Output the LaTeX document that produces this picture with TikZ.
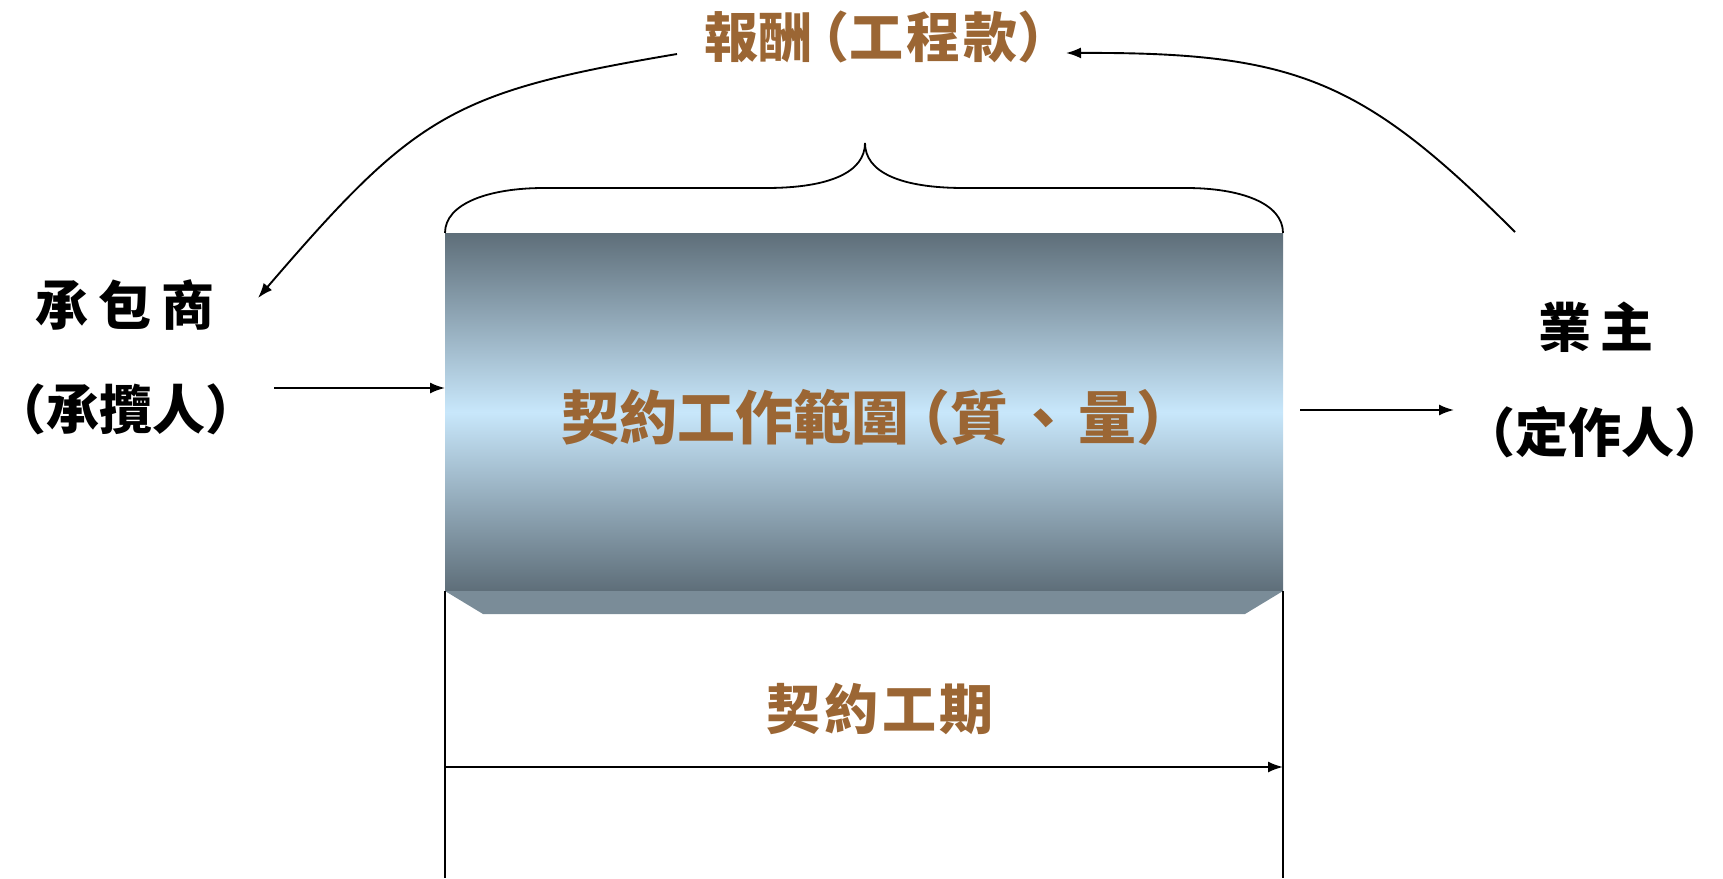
\documentclass[tikz,border=0pt]{standalone}
\usepackage{fontspec}
\newfontfamily\cjk{Noto Sans CJK TC}
\usetikzlibrary{arrows.meta}
\definecolor{brownT}{HTML}{9B6634}
\definecolor{slateD}{HTML}{5E6E79}
\definecolor{skyL}{HTML}{C8E7FB}
\definecolor{slateM}{HTML}{7A8C98}
\newcommand{\lp}{\hspace{-0.3em}（}
\newcommand{\rp}{）\hspace{-0.3em}}
\tikzset{
  conn/.style={line width=1.9pt,-{Latex[length=15pt,width=11pt]}},
  thin/.style={line width=1.8pt},
  brownlbl/.style={text=brownT,font=\cjk\bfseries\fontsize{54}{60}\selectfont,inner sep=0pt},
  blacklbl/.style={text=black,font=\cjk\bfseries\fontsize{53}{56}\selectfont,inner sep=0pt},
}
\begin{document}
\begin{tikzpicture}[x=1pt,y=-1pt]
\useasboundingbox (0,0) rectangle (1723,878);
% main box
\shade[top color=slateD,bottom color=slateD,middle color=skyL] (445,233) rectangle (1283,591);
\fill[slateM] (445,591) -- (1283,591) -- (1245,614) -- (483,614) -- cycle;
\node[brownlbl,font=\cjk\bfseries\fontsize{58}{60}\selectfont] (scope) at (878,417) {契約工作範圍\lp 質\hspace{6pt}、\hspace{6pt}量\rp};
% brace
\coordinate (bl) at (445,233);
\coordinate (br) at (1283,233);
\coordinate (tip) at (865,143);
\draw[thin] (bl) .. controls (445,203) and (490,188) .. (544,188) -- (766,188)
  .. controls (830,188) and (865,172) .. (tip)
  .. controls (865,172) and (900,188) .. (964,188) -- (1186,188)
  .. controls (1240,188) and (1283,203) .. (br);
% labels
\node[brownlbl] (pay) at (888,37) {報酬\lp 工\hspace{3pt}程\hspace{3pt}款\rp};
\node[blacklbl] (con1) at (125,305) {承\hspace{10pt}包\hspace{10pt}商};
\node[blacklbl] (con2) at (134,409) {\lp 承攬人\rp};
\node[blacklbl] (own1) at (1596,327) {業\hspace{10pt}主};
\node[blacklbl] (own2) at (1603,432) {\lp 定作人\rp};
\node[brownlbl] (dur) at (880,709) {契\hspace{4pt}約\hspace{4pt}工\hspace{4pt}期};
% curved arrows
\coordinate (payL) at (677,54);
\coordinate (conTip) at (258,298);
\coordinate (ownS) at (1515,232);
\coordinate (payR) at (1066,53);
\draw[conn] (payL) .. controls (452,92) and (416,114) .. (conTip);
\draw[conn] (ownS) .. controls (1362,79) and (1295,52) .. (payR);
% horizontal arrows
\coordinate (inS) at (274,388);
\coordinate (inE) at (445,388);
\coordinate (outS) at (1300,410);
\coordinate (outE) at (1454,410);
\draw[conn] (inS) -- (inE);
\draw[conn] (outS) -- (outE);
% duration
\coordinate (vl) at (445,591);
\coordinate (vr) at (1283,591);
\draw[thin] (vl) -- (445,878);
\draw[thin] (vr) -- (1283,878);
\coordinate (dS) at (445,767);
\coordinate (dE) at (1283,767);
\draw[conn] (dS) -- (dE);
\end{tikzpicture}
\end{document}
